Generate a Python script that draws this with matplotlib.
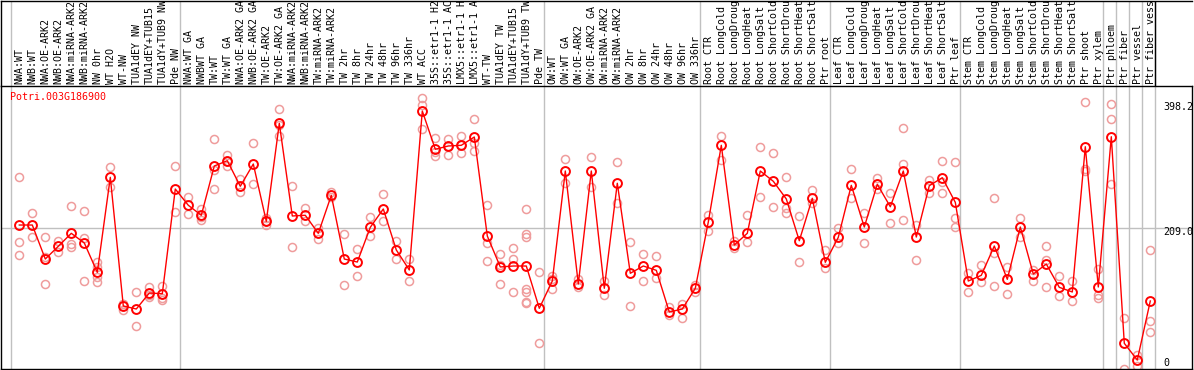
import matplotlib
matplotlib.use("Agg")
import matplotlib.pyplot as plt
from matplotlib.transforms import blended_transform_factory

gene = "Potri.003G186900"

labels = [
    "NWA:WT", "NWB:WT", "NWA:OE-ARK2", "NWB:OE-ARK2", "NWA:miRNA-ARK2", "NWB:miRNA-ARK2",
    "NW 0hr", "WT H2O", "WT-NW", "TUA1dEY NW", "TUA1dEY+TUB15", "TUA1dY+TUB9 NW", "Pde NW",
    "NWA:WT GA", "NWBWT GA", "TW:WT", "TW:WT GA", "NWA:OE-ARK2 GA", "NWB:OE-ARK2 GA",
    "TW:OE-ARK2", "TW:OE-ARK2 GA", "NWA:miRNA-ARK2", "NWB:miRNA-ARK2", "TW:miRNA-ARK2",
    "TW:miRNA-ARK2", "TW 2hr", "TW 8hr", "TW 24hr", "TW 48hr", "TW 96hr", "TW 336hr",
    "WT ACC", "35S::etr1-1 H2", "35S::etr1-1 AC", "LMX5::etr1-1 H", "LMX5::etr1-1 A",
    "WT-TW", "TUA1dEY TW", "TUA1dEY+TUB15", "TUA1dY+TUB9 TW", "Pde TW",
    "OW:WT", "OW:WT GA", "OW:OE-ARK2", "OW:OE-ARK2 GA", "OW:miRNA-ARK2", "OW:miRNA-ARK2",
    "OW 2hr", "OW 8hr", "OW 24hr", "OW 48hr", "OW 96hr", "OW 336hr",
    "Root CTR", "Root LongCold", "Root LongDroug", "Root LongHeat", "Root LongSalt",
    "Root ShortCold", "Root ShortDrou", "Root ShortHeat", "Root ShortSalt", "Ptr root",
    "Leaf CTR", "Leaf LongCold", "Leaf LongDroug", "Leaf LongHeat", "Leaf LongSalt",
    "Leaf ShortCold", "Leaf ShortDrou", "Leaf ShortHeat", "Leaf ShortSalt", "Ptr leaf",
    "Stem CTR", "Stem LongCold", "Stem LongDroug", "Stem LongHeat", "Stem LongSalt",
    "Stem ShortCold", "Stem ShortDrou", "Stem ShortHeat", "Stem ShortSalt", "Ptr shoot",
    "Ptr xylem", "Ptr phloem", "Ptr fiber", "Ptr vessel", "Ptr fiber vess",
]

group_sizes = [13, 28, 12, 10, 10, 11, 1, 1, 1, 1]

means = [
    213.4, 213.4, 163.8, 182.4, 201.3, 187.2, 144.4, 283.0, 95.3, 90.9,
    114.2, 113.2, 265.9, 242.2, 227.6, 299.5, 307.2, 269.9, 302.4, 218.8,
    361.8, 226.6, 227.6, 201.3, 256.7, 163.8, 159.4, 210.1, 236.8, 177.0,
    147.8, 379.7, 323.9, 328.7, 329.7, 341.8, 197.4, 152.2, 153.6, 153.6,
    91.9, 131.7, 292.2, 127.4, 292.2, 121.1, 274.3, 143.0, 153.6, 147.3,
    86.5, 90.9, 121.1, 217.8, 329.7, 184.2, 201.3, 292.2, 277.2, 251.4,
    190.5, 252.4, 159.0, 195.5, 271.3, 210.5, 272.8, 240.1, 292.2, 195.9,
    270.8, 282.4, 246.5, 131.7, 140.0, 182.8, 134.2, 210.5, 141.9, 156.5,
    122.5, 115.7, 327.6, 123.0, 342.2, 40.8, 16.5, 102.6,
]

replicates = [
    [283.0, 188.2, 169.7], [230.5, 195.9], [195.9, 167.2, 127.4], [190.1, 174.0],
    [241.1, 185.7, 180.9], [233.8, 194.9, 131.7], [159.9, 152.6, 138.0, 130.7],
    [297.6, 269.3], [97.7, 89.4, 98.0], [115.2, 65.6], [123.0, 108.8, 112.0],
    [124.4, 106.5, 104.0], [299.1, 231.9], [254.3, 229.9], [237.2, 220.3, 225.0],
    [338.4, 293.7, 265.9], [315.5, 299.1, 307.0], [280.5, 261.1], [332.6, 272.8],
    [223.2, 213.4, 219.0], [382.6, 343.3, 359.0], [269.9, 181.8], [238.2, 218.8],
    [208.6, 193.4], [261.1, 253.8], [200.3, 125.9], [178.0, 139.0], [225.1, 197.4],
    [258.2, 219.3], [190.5, 163.8], [163.8, 131.7], [398.2, 388.5, 353.5],
    [339.9, 320.4, 314.1], [338.4, 315.1, 329.0], [343.3, 318.0, 330.0],
    [367.6, 332.6, 321.8], [242.2, 186.7, 160.5], [171.1, 155.1, 126.9],
    [179.9, 164.3, 115.7], [236.8, 200.3, 196.4, 119.6, 116.1, 101.1, 99.2],
    [144.9, 40.8], [139.5, 120.1, 134.0], [309.3, 274.3], [134.2, 123.4],
    [312.2, 269.3], [132.2, 111.3], [305.3, 245.1], [189.1, 95.3], [171.1, 131.3],
    [168.2, 135.7], [93.4, 82.1], [97.7, 78.2], [125.9, 116.1], [228.0, 205.1],
    [343.3, 308.2], [190.5, 179.4], [227.6, 189.1], [326.8, 253.8], [318.0, 239.2],
    [283.0, 237.8, 230.5], [226.6, 159.0], [264.5, 245.1], [177.0, 150.3],
    [209.5, 186.7], [294.7, 252.4], [230.5, 186.7], [281.5, 265.5], [259.7, 215.9],
    [354.5, 302.4, 220.7], [213.4, 162.4], [279.1, 259.7], [306.8, 276.6, 259.7],
    [305.3, 223.2, 210.5], [143.0, 115.7], [155.1, 130.7], [252.4, 172.1, 124.4],
    [152.6, 112.8], [223.2, 196.4], [147.8, 131.7], [182.8, 162.4, 122.5],
    [139.0, 109.8], [131.7, 102.6], [392.4, 294.7, 292.6], [149.2, 111.3, 106.5],
    [389.9, 367.6, 272.8], [77.3, 3.8], [23.8, 8.2], [177.0, 73.4, 56.9],
]

y_ticks = [398.2, 209.0, 0]
tick_texts = ["398.2", "209.0", "0"]

# ---------------- layout ----------------
W, H = 1194, 370
fig = plt.figure(figsize=(W / 100, H / 100), dpi=100)
mono = "DejaVu Sans Mono"
red = "#ff0000"
pink = "#ef9c9c"
grey = "#c0c0c0"

px0, px1 = 1, 1192          # left / right of boxes (pixels)
head_top, head_bot = 0.5, 86  # header region
plot_bot = 369

def fx(p):
    return p / W

def fy(p):
    return 1 - p / H

ax = fig.add_axes([fx(px0), fy(plot_bot), fx(px1 - px0), (plot_bot - head_bot) / H])
hx = fig.add_axes([fx(px0), fy(head_bot), fx(px1 - px0), (head_bot - head_top) / H])

step = 13.0
first = 19.3
xlim = ((px0 - first) / step, (px1 - first) / step)
ylim = (3.36, 416.2)
for a in (ax, hx):
    a.set_xlim(*xlim)
    a.set_xticks([])
    a.set_yticks([])
    for s in a.spines.values():
        s.set_color("black")
        s.set_linewidth(1.0)
ax.set_ylim(*ylim)
hx.set_ylim(0, 1)
ax.spines["top"].set_visible(False)
hx.spines["right"].set_visible(False)

# group separators
bounds = [0]
for g in group_sizes:
    bounds.append(bounds[-1] + g)
off = 8.5 / step
for b in bounds:
    ax.axvline(b - off, color=grey, lw=1.0, zorder=0)
    hx.axvline(b - off, color=grey, lw=1.0, zorder=0)
hx.axvline(bounds[-1] - off, color="black", lw=1.0, zorder=1)

ax.axhline(209.0, color=grey, lw=1.0, zorder=0)

# replicates
xs = list(range(len(labels)))
for i, reps in enumerate(replicates):
    ax.plot([i] * len(reps), reps, linestyle="none", marker="o", ms=5.8,
            mfc="none", mec=pink, mew=1.1, zorder=2)

# mean line
ax.plot(xs, means, color=red, lw=1.0, zorder=3)
ax.plot(xs, means, linestyle="none", marker="o", ms=6.4, mfc="none",
        mec=red, mew=1.4, zorder=4)

# header labels
for i, lab in enumerate(labels):
    hx.text(i + 0.03, (head_bot - 84) / (head_bot - head_top), lab, rotation=90,
            ha="center", va="bottom", fontsize=7.2, family=mono, color="black",
            clip_on=True)

# gene name
ax.text((10 - first) / step, (plot_bot - 97.5) / (plot_bot - head_bot), gene,
        transform=blended_transform_factory(ax.transData, ax.transAxes),
        ha="left", va="center", fontsize=7.2, family=mono, color=red)

# y-value labels on the right
tick_px = [107, 232, 363]
tr = blended_transform_factory(ax.transData, ax.transAxes)
for t, p in zip(tick_texts, tick_px):
    ax.text((1163 - first) / step, (plot_bot - p) / (plot_bot - head_bot), t,
            transform=tr, ha="left", va="center", fontsize=7.2, family=mono,
            color="black")

fig.savefig("out.png", dpi=100)
